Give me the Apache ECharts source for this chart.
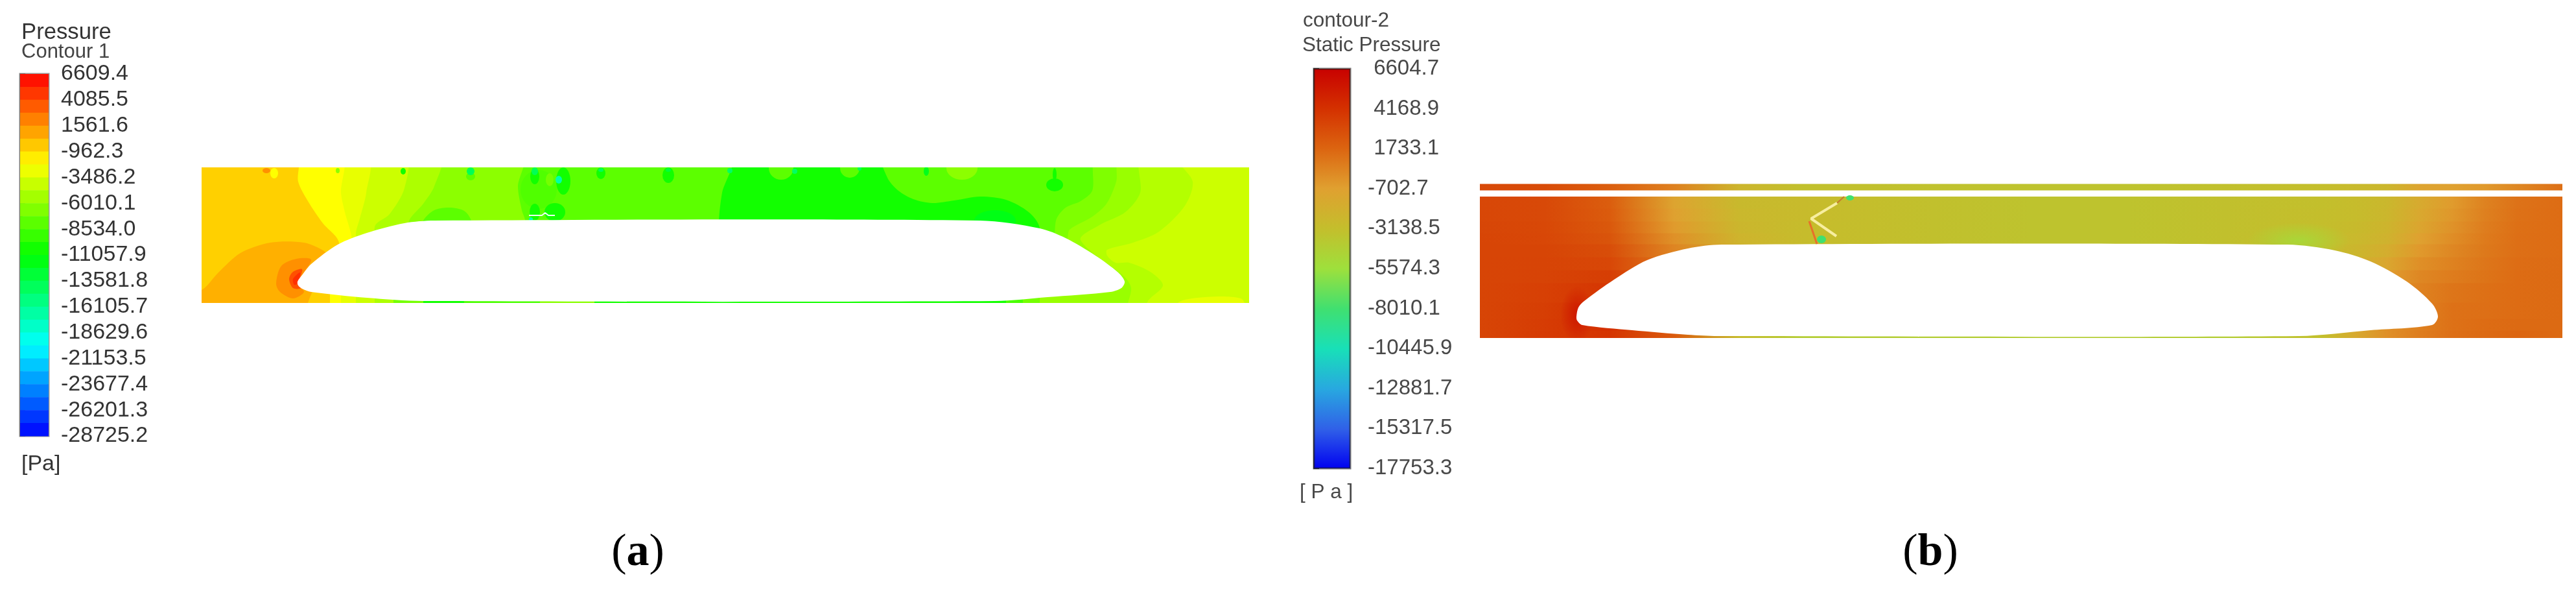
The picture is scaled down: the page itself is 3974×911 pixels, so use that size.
<!DOCTYPE html>
<html>
<head>
<meta charset="utf-8">
<style>
	html, body { margin: 0; padding: 0; background: #fff; }
	#main { width: 3974px; height: 911px; }
</style>
<script src="https://cdn.jsdelivr.net/npm/echarts@6/dist/echarts.min.js"></script>
</head>
<body>
<div id="main"></div>
<script>
	// 图例刻度
	var ticksA = ['6609.4', '4085.5', '1561.6', '-962.3', '-3486.2', '-6010.1', '-8534.0', '-11057.9', '-13581.8', '-16105.7', '-18629.6', '-21153.5', '-23677.4', '-26201.3', '-28725.2'];
	var ticksB = [' 6604.7', ' 4168.9', ' 1733.1', '-702.7', '-3138.5', '-5574.3', '-8010.1', '-10445.9', '-12881.7', '-15317.5', '-17753.3'];
	var rangeA = [6609.4, -28725.2];
	var rangeB = [6604.7, -17753.3];
	var rainbowA = ['#ff0000', '#ffff00', '#00ff00', '#00ffff', '#0000ff'];
	var colorsB = ['#c80000', '#d43000', '#dc6410', '#e0a030', '#c4be2c', '#9ee03c', '#40e070', '#18e0b8', '#28a8e0', '#3060e8', '#0000f0'];

	// (a) 等值线边界: 网格单位, 从下到上
	var edgeL1 = [[798, -15], [798, 125], [803, 170], [815, 225]];
	var edgeL2 = [[499, -15], [499, 127], [494, 143], [488, 180], [494, 225]];
	var edgeL3 = [[319, -15], [319, 123], [342, 153], [359, 180], [367, 225]];
	var edgeL4 = [[267, -15], [267, 117], [290, 137], [313, 177], [313, 225]];
	var edgeL5 = [[238, -15], [238, 107], [244, 130], [254, 170], [255, 225]];
	var edgeL6 = [[232, -15], [232, 97], [221, 140], [215, 170], [215, 225]];
	var edgeL7 = [[212, -15], [212, 93], [187, 123], [164, 157], [149, 187], [146, 225]];
	var edgeR1 = [[1293, -15], [1293, 115], [1276, 140], [1241, 159], [1201, 164], [1161, 158], [1127, 154], [1098, 160], [1075, 173], [1058, 193], [1052, 225]];
	var edgeR2 = [[1300, -15], [1316, 108], [1319, 130], [1333, 147], [1356, 157], [1374, 173], [1382, 225]];
	var edgeR3 = [[1296, -15], [1336, 100], [1339, 113], [1374, 133], [1396, 153], [1411, 187], [1417, 225]];
	var edgeR4 = [[1431, -15], [1434, 23], [1424, 40], [1356, 97], [1385, 120], [1425, 140], [1448, 170], [1451, 225]];
	var edgeR5 = [[1457, -15], [1460, 3], [1483, 27], [1465, 47], [1431, 62], [1410, 62], [1397, 73], [1397, 82], [1437, 93], [1477, 110], [1517, 150], [1529, 187], [1506, 225]];
	var haloA1 = [[-60, -40], [-60, 0], [0, 20], [26, 47], [60, 77], [106, 93], [158, 93], [189, 80], [195, 70], [164, 0], [164, -30]];
	var haloA2 = [[115, 30], [123, 57], [146, 68], [169, 67], [158, 47], [148, 30], [158, 17], [141, 7], [121, 17]];
	var haloA3 = [[135, 37], [141, 48], [155, 52], [152, 37], [153, 23], [141, 23]];
	var haloA4 = [[141, 37], [152, 47], [148, 30], [143, 28]];
	var bumpA1 = [[342, 110], [342, 127], [359, 143], [382, 147], [405, 142], [416, 127], [416, 110]];
	var bumpA2 = [[1506, -15], [1506, 0], [1528, 7], [1574, 10], [1603, 7], [1609, 0], [1609, -15]];
	var valuesLeftA = [-7871, -6206, -5066, -4000, -3020, -2224, -599];
	var valuesRightA = [-7871, -6658, -5757, -4824, -4000];

	// (a) 车体下方窄带
	var stripX = [198, 215, 238, 267, 296, 342, 405, 522, 606, 1241, 1267, 1293];
	var stripV = [-2224, -3020, -4000, -5066, -7000, -10437, -8500, -6300, -10437, -8500, -7000];

	// (a) 壁面小斑点: x, y, rx, ry, 压力
	var spotsA = [
		[520, 175, 28, 30, -8300], [1224, 127, 32, 16, -11800],
		[100, 204, 6, 4, 1620], [112, 200, 6, 8, -2224], [210, 204, 3, 4, -6206], [311, 203, 4, 5, -10437],
		[415, 195, 7, 6, -7871], [415, 203, 6, 6, -14000], [514, 195, 7, 12, -10437], [514, 203, 5, 6, -14000],
		[558, 188, 11, 21, -10437], [537, 190, 6, 10, -7000], [551, 190, 5, 6, -17000],
		[616, 200, 7, 9, -10437], [616, 205, 4, 3, -14000], [720, 197, 9, 12, -10437], [720, 205, 4, 3, -13000],
		[815, 204, 4, 4, -14500], [894, 208, 19, 18, -7871], [915, 203, 4, 4, -14500], [1000, 208, 15, 15, -7871],
		[1015, 207, 3, 3, -14000], [1118, 203, 4, 7, -12000], [1173, 208, 24, 18, -6206],
		[1316, 182, 13, 10, -10437], [1316, 198, 3, 10, -10437],
		[514, 140, 8, 13, -10437], [545, 140, 16, 14, -10437], [508, 129, 3, 3, -17000]
	];
	var markA = [[505, 135], [525, 135], [530, 139], [535, 135], [545, 135]];
	var bodyA = [[148, 33], [155, 43], [169, 60], [210, 90], [255, 108], [313, 123], [359, 127], [1201, 127], [1293, 115], [1333, 100], [1379, 73], [1414, 47], [1424, 33], [1419, 23], [1402, 17], [1305, 9], [1224, 3], [342, 3], [255, 8], [169, 17], [155, 22], [149, 27]];

	// (b) 压力场: 每行沿 x 读取的压力值
	var stopsB = [0, 100, 200, 300, 400, 500, 600, 700, 850, 1000, 1150, 1300, 1350, 1400, 1450, 1500, 1550, 1600, 1670];
	var rowEdgesB = [0, 12, 30, 55, 85, 105, 125, 145, 162, 180, 200, 218];
	var rowB0 = [3200, 3700, 4000, 2200, -3000, -4200, -4200, -4200, -4200, -4200, -4200, -3200, -1500, 0, 700, 1300, 1500, 1700, 1500];
	var rowB1 = [3200, 3600, 4200, 2500, -3000, -4200, -4200, -4200, -4200, -4200, -4200, -3200, -1500, 0, 600, 1200, 1400, 1500, 1500];
	var rowB2 = [3200, 3500, 4200, 2500, 0, -3000, -3200, -3300, -3500, -3500, -3300, -3000, -1500, -200, 500, 1200, 1300, 1400, 1500];
	var rowB3 = [3200, 3400, 3900, 2200, 0, -3000, -3200, -3300, -3500, -3500, -3300, -3000, -1500, -200, 500, 1050, 1250, 1400, 1500];
	var rowB4 = [3200, 3300, 3500, 1500, -500, -3000, -3200, -3300, -3500, -3500, -3300, -3000, -1800, -600, 300, 750, 1100, 1400, 1500];
	var rowB5 = [3200, 3250, 3100, 900, -1400, -3000, -3200, -3300, -3500, -3500, -3300, -3000, -2200, -1200, 0, 500, 1000, 1350, 1450];
	var rowB6 = [3200, 3200, 2800, 400, -1900, -3000, -3200, -3300, -3500, -3500, -3300, -3000, -2500, -1750, -400, 300, 900, 1300, 1400];
	var rowB7 = [3200, 3100, 2500, -100, -2300, -3000, -3100, -3300, -3500, -3500, -3300, -3000, -2700, -2150, -800, 50, 800, 1280, 1400];
	var rowB8 = [3150, 3050, 2300, -500, -2500, -2950, -3100, -3300, -3500, -3500, -3300, -3100, -2850, -2350, -1100, -150, 700, 1250, 1400];
	var rowB9 = [3100, 3000, 2150, -800, -2650, -2900, -3100, -3300, -3500, -3500, -3300, -3150, -2950, -2500, -1350, -350, 600, 1200, 1400];
	var rowB10 = [3100, 3000, 2050, -1000, -2750, -2900, -3100, -3300, -3500, -3500, -3300, -3200, -3000, -2600, -1500, -500, 500, 1150, 1400];
	var rowsB = [rowB0, rowB1, rowB2, rowB3, rowB4, rowB5, rowB6, rowB7, rowB8, rowB9, rowB10];
	var capEdgesB = [228, 237.5];
	var capB = [3000, 2900, 2000, 600, -2400, -3300, -3300, -3400, -3500, -3500, -3300, -3100, -2800, -2500, -1000, -800, -400, 300, 1300];
	// 驻点和车头肩部的过渡: x, y, rx, ry, 压力
	var glowsB = [[150, 36, 26, 44, 5400], [1263, 150, 80, 28, -4900]];
	var spotsB = [[571, 216, 6, 4, -8010], [527, 152, 7, 6, -8010]];
	var bodyB = [[149, 33], [152, 47], [161, 57], [207, 90], [258, 120], [321, 138], [373, 144], [1246, 144], [1319, 135], [1374, 118], [1430, 87], [1469, 53], [1478, 33], [1469, 20], [1374, 12], [1263, 3], [367, 3], [321, 5], [235, 12], [158, 20], [150, 27]];
	var kinkB = [[551, 208], [511, 184], [550, 157]];
	var kinkB2 = [[562, 218], [551, 208]];
	var kinkB3 = [[508, 180], [520, 145]];

	function colorA(v) {
		return echarts.color.lerp((rangeA[0] - v) / (rangeA[0] - rangeA[1]), rainbowA);
	}
	function colorB(v) {
		return echarts.color.lerp((rangeB[0] - v) / (rangeB[0] - rangeB[1]), colorsB);
	}
	function leftOf(edge) {
		return [[-60, -40]].concat(edge, [[-60, 260]]);
	}
	function rightOf(edge) {
		return edge.concat([[1680, 260], [1680, -40]]);
	}

	// 填充多边形 list: [压力, 点列]
	function polygons(idx, list, smooth, fill) {
		return {
			type: 'custom',
			xAxisIndex: idx,
			yAxisIndex: idx,
			clip: true,
			silent: true,
			data: list.map(function (r, i) { return [i]; }),
			renderItem: function (params, api) {
				var item = list[params.dataIndex];
				return {
					type: 'polygon',
					shape: { points: item[1].map(function (p) { return api.coord(p); }), smooth: smooth },
					style: { fill: fill ? fill : colorA(item[0]) }
				};
			}
		};
	}

	var contoursA = [[-10437, [[-60, -40], [-60, 260], [1680, 260], [1680, -40]]]];
	[edgeL1, edgeL2, edgeL3, edgeL4, edgeL5, edgeL6, edgeL7].forEach(function (e, i) {
		contoursA.push([valuesLeftA[i], leftOf(e)]);
	});
	[edgeR1, edgeR2, edgeR3, edgeR4, edgeR5].forEach(function (e, i) {
		contoursA.push([valuesRightA[i], rightOf(e)]);
	});
	contoursA.push([513, haloA1], [1620, haloA2], [3838, haloA3], [4947, haloA4], [-7871, bumpA1], [-3020, bumpA2]);

	var stripRects = stripV.map(function (v, i) {
		return [v, [[stripX[i], -5], [stripX[i + 1], -5], [stripX[i + 1], 20], [stripX[i], 20]]];
	});

	// 椭圆斑点, 用缩放的圆画
	function spotSeries(idx, list, colorOf) {
		return {
			type: 'custom',
			xAxisIndex: idx,
			yAxisIndex: idx,
			clip: true,
			silent: true,
			data: list.map(function (r, i) { return [i]; }),
			renderItem: function (params, api) {
				var s = list[params.dataIndex];
				var c = api.coord([s[0], s[1]]);
				return {
					type: 'circle',
					x: c[0],
					y: c[1],
					scaleX: s[2],
					scaleY: s[3],
					shape: { cx: 0, cy: 0, r: 1 },
					style: { fill: colorOf(s[4]) }
				};
			}
		};
	}

	function lineSeries(idx, pts, color, width) {
		return {
			type: 'line',
			xAxisIndex: idx,
			yAxisIndex: idx,
			silent: true,
			showSymbol: false,
			lineStyle: { color: color, width: width },
			data: pts
		};
	}

	// (b) 每行一条横向渐变
	function fieldRows(edges, rows) {
		return {
			type: 'custom',
			xAxisIndex: 2,
			yAxisIndex: 2,
			clip: true,
			silent: true,
			data: rows.map(function (r, i) { return [i]; }),
			renderItem: function (params, api) {
				var i = params.dataIndex;
				var a = api.coord([0, edges[i + 1]]);
				var b = api.coord([1670, edges[i]]);
				var stops = stopsB.map(function (x, j) {
					return { offset: x / 1670, color: colorB(rows[i][j]) };
				});
				return {
					type: 'rect',
					shape: { x: a[0], y: a[1], width: b[0] - a[0], height: b[1] - a[1] + 0.5 },
					style: { fill: new echarts.graphic.LinearGradient(0, 0, 1, 0, stops) }
				};
			}
		};
	}

	// 色标 (a): 每个刻度间两个色带
	var bandIndex = [];
	for (var k = 0; k < 28; k++) bandIndex.push(k);
	var barA = {
		type: 'custom',
		xAxisIndex: 1,
		yAxisIndex: 1,
		silent: true,
		data: bandIndex.map(function (b) { return [b]; }),
		renderItem: function (params, api) {
			var b = params.dataIndex;
			var p0 = api.coord([0, b / 2]);
			var p1 = api.coord([1, (b + 1) / 2]);
			return {
				type: 'rect',
				shape: { x: p0[0], y: p0[1], width: p1[0] - p0[0], height: p1[1] - p0[1] + 0.5 },
				style: { fill: echarts.color.lerp((b + 0.5) / 28, rainbowA) }
			};
		}
	};
	// 色标 (b): 连续
	var barB = {
		type: 'custom',
		xAxisIndex: 3,
		yAxisIndex: 3,
		silent: true,
		data: [[0]],
		renderItem: function (params, api) {
			var p0 = api.coord([0, 0]);
			var p1 = api.coord([1, 10]);
			var stops = colorsB.map(function (c, i) { return { offset: i / 10, color: c }; });
			return {
				type: 'rect',
				shape: { x: p0[0], y: p0[1], width: p1[0] - p0[0], height: p1[1] - p0[1] },
				style: {
					fill: new echarts.graphic.LinearGradient(0, 0, 0, 1, stops),
					stroke: 'rgba(30,30,30,0.6)',
					lineWidth: 3
				}
			};
		}
	};

	function hiddenX(idx, max) {
		return { type: 'value', gridIndex: idx, min: 0, max: max, show: false };
	}
	function hiddenY(idx, max) {
		return { type: 'value', gridIndex: idx, min: 0, max: max, show: false };
	}
	function barAxis(idx, ticks, fontSize, color, margin, lineColor) {
		return {
			type: 'value',
			gridIndex: idx,
			position: 'right',
			inverse: true,
			min: 0,
			max: ticks.length - 1,
			interval: 1,
			axisLine: { show: true, lineStyle: { color: lineColor, width: 2 } },
			axisTick: { show: true, length: 8, lineStyle: { color: lineColor, width: 2 } },
			minorTick: { show: idx === 1, splitNumber: 2, length: 4, lineStyle: { color: lineColor, width: 2 } },
			splitLine: { show: false },
			axisLabel: {
				margin: margin,
				align: 'left',
				fontFamily: 'Liberation Sans',
				fontSize: fontSize,
				color: color,
				formatter: function (v) { return ticks[v]; }
			}
		};
	}

	function label(text, x, y, size, color) {
		return {
			type: 'text',
			silent: true,
			style: {
				text: text,
				x: x,
				y: y,
				fill: color,
				verticalAlign: 'middle',
				font: size + 'px "Liberation Sans"'
			}
		};
	}
	function caption(letter, x) {
		return {
			type: 'text',
			silent: true,
			style: {
				text: '{p|(}{b|' + letter + '}{p|)}',
				x: x,
				y: 853,
				align: 'center',
				verticalAlign: 'middle',
				rich: {
					p: { fontFamily: 'Liberation Serif', fontSize: 70, fill: '#000' },
					b: { fontFamily: 'Liberation Serif', fontWeight: 'bold', fontSize: 70, fill: '#000' }
				}
			}
		};
	}

	var myChart = echarts.init(document.getElementById('main'));
	var option = {
		animation: false,
		backgroundColor: '#fff',
		grid: [
			{ left: 311, top: 258, width: 1616, height: 209 },
			{ left: 31, top: 114, width: 44, height: 558, show: true, borderWidth: 3, borderColor: 'rgba(70,70,70,0.55)' },
			{ left: 2283, top: 283, width: 1670, height: 238 },
			{ left: 2027, top: 106, width: 56, height: 616 }
		],
		xAxis: [hiddenX(0, 1616), hiddenX(1, 1), hiddenX(2, 1670), hiddenX(3, 1)],
		yAxis: [
			hiddenY(0, 209),
			barAxis(1, ticksA, 34, '#333', 19, '#777'),
			hiddenY(2, 238),
			barAxis(3, ticksB, 33, '#484848', 27, '#444')
		],
		series: [
			polygons(0, contoursA, 0.3),
			polygons(0, stripRects, 0),
			spotSeries(0, spotsA, colorA),
			polygons(0, [[0, bodyA]], 0.3, '#fff'),
			lineSeries(0, markA, '#eafff2', 2),
			barA,
			fieldRows(rowEdgesB, rowsB),
			fieldRows(capEdgesB, [capB]),
			spotSeries(2, glowsB, function (v) {
				var c = colorB(v);
				return new echarts.graphic.RadialGradient(0.5, 0.5, 0.5, [
					{ offset: 0, color: c },
					{ offset: 1, color: echarts.color.modifyAlpha(c, 0) }
				]);
			}),
			spotSeries(2, spotsB, colorB),
			polygons(2, [[0, bodyB]], 0.3, '#fff'),
			lineSeries(2, kinkB2, '#c87830', 2),
			lineSeries(2, kinkB3, '#e8702a', 3),
			lineSeries(2, kinkB, '#f7eea0', 4),
			barB
		],
		graphic: [
			label('Pressure', 33, 50, 34.7, '#333'),
			label('Contour 1', 33, 80, 31, '#444'),
			label('[Pa]', 33, 716, 34, '#333'),
			label('contour-2', 2010, 32, 31.5, '#484848'),
			label('Static Pressure', 2009, 70, 31.5, '#484848'),
			label('[ P a ]', 2005, 759, 31.5, '#484848'),
			caption('a', 984),
			caption('b', 2978)
		]
	};
	myChart.setOption(option);
</script>
</body>
</html>
